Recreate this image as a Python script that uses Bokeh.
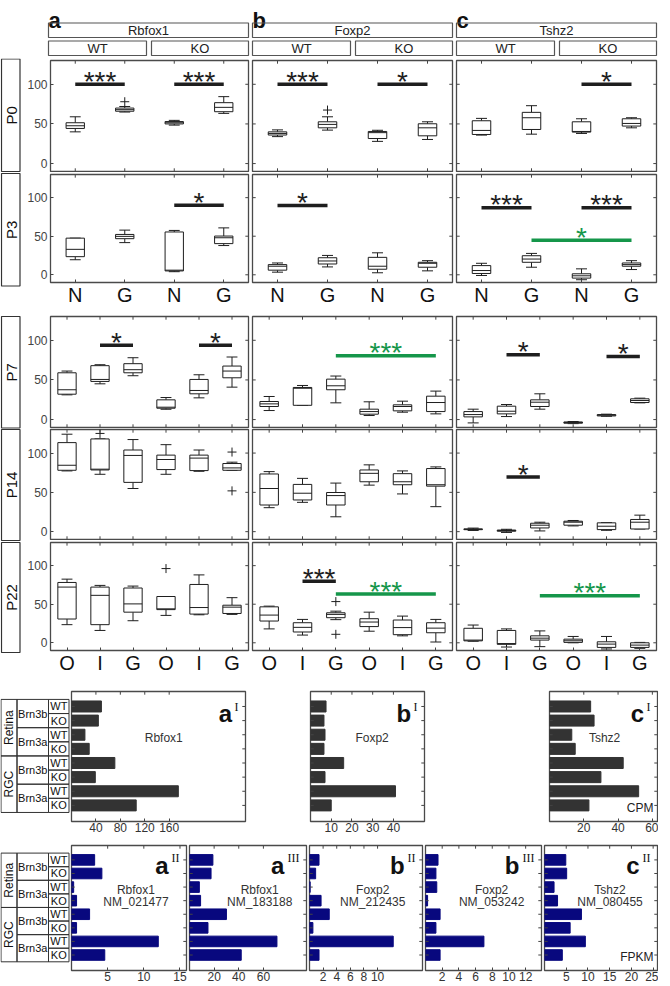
import numpy as np
from bokeh.plotting import figure
from bokeh.models import Range1d, LinearAxis, FixedTicker, Spacer
from bokeh.layouts import row, column
from bokeh.embed import file_html
from bokeh.resources import INLINE
from bokeh.core.properties import value

FONT = "Liberation Sans"
SERIF = "Liberation Serif"
GREEN = "#15964a"
BLACK = "#1e1e1e"
FRAME = "#4a4a4a"
TICK = "#444444"

# ---------------- categories / labels ----------------
genes = ["Rbfox1", "Foxp2", "Tshz2"]
panel_letters = ["a", "b", "c"]
genotypes = ["WT", "KO"]
ages = ["P0", "P3", "P7", "P14", "P22"]
early_groups = ["N", "G", "N", "G"]
late_groups = ["O", "I", "G", "O", "I", "G"]
y_ticks = [0, 50, 100]

# ---------------- box statistics: [low whisker, q1, median, q3, high whisker] ----------------
rbfox1_P0 = [[40, 44.3, 47.7, 51.5, 59], [65, 66, 68, 70, 72], [48.5, 50, 51.5, 53, 54.5], [63.3, 65.4, 70.9, 76.8, 84.4]]
rbfox1_P3 = [[19.5, 23.5, 33, 47.5, 47.5], [41.7, 46.8, 49.8, 52.3, 57.9], [4, 5, 6, 55.5, 57.5], [37.9, 40.4, 48, 50.2, 60.8]]
rbfox1_P7 = [[31.2, 32, 37.6, 59, 61.2], [45.1, 48.1, 50.6, 68, 69.2], [55.3, 59, 62.9, 70.5, 78],
             [13, 14.3, 15.6, 24.9, 27.8], [27.4, 32.5, 36.7, 50.6, 56.5], [40.9, 52.7, 61.2, 67.5, 78.9]]
rbfox1_P14 = [[77.3, 78.1, 84.5, 113.3, 124], [73, 78.5, 79.5, 118, 118], [54.9, 62.7, 97, 103.9, 117.2],
              [73, 79, 91.8, 97.4, 110.7], [76.8, 77.7, 93.6, 97.4, 103.9], [78, 78.1, 81.1, 86.7, 88.4]]
rbfox1_P22 = [[23.5, 30.8, 72.2, 78.2, 82.5], [16, 23.5, 61.5, 72.2, 74.4], [28.6, 39.7, 50.4, 71, 73.5],
              [35.5, 43, 44, 60, 60], [36.3, 37.2, 45.7, 75.6, 88], [36.8, 38, 46.2, 48.7, 58.5]]

foxp2_P0 = [[34, 36, 38, 40, 42.5], [42.2, 45.1, 49.4, 52.7, 59], [28, 31.6, 39, 40.5, 42], [30.4, 35, 45.1, 50.2, 52.7]]
foxp2_P3 = [[3.4, 6, 11.1, 13.2, 15.3], [10.2, 14, 17.9, 22.1, 25.1], [2.6, 7.2, 11.1, 22.6, 28.5], [5.1, 9.8, 14.9, 16.2, 18.3]]
foxp2_P7 = [[11.4, 16.5, 19.8, 22.8, 29.1], [18, 18, 39.5, 40.5, 43], [21.1, 37.6, 42.6, 51, 54.9],
            [5.1, 6.8, 10.1, 13.1, 22.4], [9.3, 11, 16.5, 18.6, 23.2], [7.2, 10.1, 21.5, 29.5, 35.9]]
foxp2_P14 = [[30.5, 33.9, 54.9, 73.4, 76.4], [37.3, 40.3, 48.9, 60.1, 67.8], [18.9, 33.9, 45.9, 49.8, 61.8],
             [59.2, 63.5, 74.2, 78.5, 85], [48, 59.7, 63.5, 73.8, 77.3], [31.8, 57.9, 59.7, 80.3, 82.4]]
foxp2_P22 = [[18, 28.2, 35.9, 46.6, 47.5], [10, 14, 20, 26, 30.3], [30, 32.5, 36.8, 38.9, 41],
             [15, 21, 26.9, 31.2, 39.7], [9, 10.5, 19.7, 29.5, 34.6], [1, 13, 19, 26, 30.3]]

tshz2_P0 = [[35.9, 36.7, 41.8, 54, 57], [37.1, 43, 57.8, 64.6, 73], [38, 39.7, 40.5, 52.7, 56.5], [45.1, 47.3, 50.6, 56.5, 57.8]]
tshz2_P3 = [[-0.9, 1.7, 5.5, 11.9, 14.9], [9.8, 16.2, 20.4, 24.7, 27.7], [-6.4, -4.3, -1.3, 1.3, 7.7], [6.8, 11.1, 13.2, 15.3, 18.3]]
tshz2_P7 = [[-4.2, 3.4, 6.3, 10.1, 13.1], [3.8, 7.2, 10.5, 16.9, 19], [13.1, 16.5, 21.9, 24.9, 32.5],
            [-5.1, -4.6, -3.8, -3, -2.5], [4.2, 4.6, 5.5, 6.3, 6.8], [21.1, 21.5, 24, 26.2, 27]]
tshz2_P14 = [[1.5, 2.5, 3, 3.5, 4.5], [-1, 0.5, 1.5, 2, 3], [0.9, 4.7, 8.2, 10.7, 12],
             [7.3, 8.2, 12, 13.3, 14.2], [1.7, 2.6, 6.9, 11.2, 11.6], [3.4, 3.4, 12, 15.5, 21]]
tshz2_P22 = [[2, 2.5, 3.5, 18.8, 23], [-5.5, -2, -1, 16, 18], [-5, 3.5, 6, 9, 15.4],
             [0, 0.5, 2.6, 4.7, 8.2], [-8, -6, -1.7, 1.3, 8.2], [-7.2, -6, -3, 0, 0.5]]

# outliers: (group, value)
rbfox1_P0_out = [(2, 78)]
rbfox1_P14_out = [(2, 125), (6, 101.3), (6, 51.9)]
rbfox1_P22_out = [(4, 96.2)]
foxp2_P0_out = [(2, 67.5)]
foxp2_P22_out = [(3, 53.4), (3, 11)]

# significance bars: (from group, to group, level, stars, colour)
rbfox1_P0_sig = [(1, 2, 100, "***", BLACK), (3, 4, 100, "***", BLACK)]
rbfox1_P3_sig = [(3, 4, 90, "*", BLACK)]
rbfox1_P7_sig = [(2, 3, 93.7, "*", BLACK), (5, 6, 93.7, "*", BLACK)]
foxp2_P0_sig = [(1, 2, 100, "***", BLACK), (3, 4, 100, "*", BLACK)]
foxp2_P3_sig = [(1, 2, 89.8, "*", BLACK)]
foxp2_P7_sig = [(3, 6, 80.6, "***", GREEN)]
foxp2_P22_sig = [(2, 3, 79.9, "***", BLACK), (3, 6, 63.2, "***", GREEN)]
tshz2_P0_sig = [(3, 4, 100, "*", BLACK)]
tshz2_P3_sig = [(1, 2, 87, "***", BLACK), (3, 4, 87, "***", BLACK), (2, 4, 44.7, "*", GREEN)]
tshz2_P7_sig = [(2, 3, 81.9, "*", BLACK), (5, 6, 79.7, "*", BLACK)]
tshz2_P14_sig = [(2, 3, 69.5, "*", BLACK)]
tshz2_P22_sig = [(3, 6, 61.1, "***", GREEN)]

# ---------------- bar data ----------------
bar_tissues = ["Retina", "RGC"]
bar_lines = ["Brn3b", "Brn3a", "Brn3b", "Brn3a"]
bar_genotypes = ["WT", "KO", "WT", "KO", "WT", "KO", "WT", "KO"]

cpm_rbfox1 = [49, 44, 22, 29, 71, 39, 175, 106]
cpm_foxp2 = [7.5, 6.5, 7, 6.5, 16, 7, 41, 10]
cpm_tshz2 = [24, 26, 13, 15, 43, 30, 52, 23]
fpkm_rbfox1_nm021477 = [3.2, 4.2, 0.3, 0.7, 2.5, 0.7, 12, 4.6]
fpkm_rbfox1_nm183188 = [19, 17.5, 8, 9, 30, 15, 71, 42]
fpkm_foxp2_nm212435 = [1.4, 0.9, 0.1, 1.7, 2.9, 0.5, 12.3, 1.4]
fpkm_foxp2_nm053242 = [1.5, 1.25, 1.35, 0.25, 1.75, 1.25, 7.0, 1.75]
fpkm_tshz2_nm080455 = [4.9, 5.1, 2.2, 3.0, 8.5, 5.9, 9.4, 4.1]

cpm_ticks = [[40, 80, 120, 160], [10, 20, 30, 40], [20, 40, 60]]
cpm_xmax = [285, 55, 63]
fpkm_ticks = [[5, 10, 15], [20, 40, 60], [2, 4, 6, 8, 10], [2, 4, 6, 8, 10, 12], [5, 10, 15, 20, 25]]
fpkm_xmax = [15.9, 95, 16.6, 13.9, 26]


# ---------------- helpers ----------------
def new_fig(width, height, xr, yr, bl=0, br=0, bt=0, bb=0):
    p = figure(width=width, height=height, x_range=xr, y_range=yr, title=None,
               toolbar_location=None, output_backend="svg",
               x_axis_location=None, y_axis_location=None,
               min_border_left=bl, min_border_right=br, min_border_top=bt, min_border_bottom=bb)
    p.xgrid.grid_line_color = None
    p.ygrid.grid_line_color = None
    p.background_fill_color = "white"
    p.border_fill_color = "white"
    p.outline_line_color = FRAME
    p.outline_line_width = 1.3
    return p


def add_axis(p, loc, ticks, size="12px", color="#333333", standoff=2, overrides=None):
    ax = LinearAxis(ticker=FixedTicker(ticks=ticks))
    ax.axis_line_color = None
    ax.major_tick_in = 3
    ax.major_tick_out = 0
    ax.major_tick_line_color = TICK
    ax.minor_tick_line_color = None
    ax.major_label_text_font = FONT
    ax.major_label_text_font_size = size
    ax.major_label_text_color = color
    ax.major_label_standoff = standoff
    if overrides:
        ax.major_label_overrides = overrides
    p.add_layout(ax, loc)


def inner_ticks(p, side, ticks, xr, yr, fw, fh, length=3.2):
    """Short inward tick marks on a frame side that carries no labels."""
    t = np.asarray(ticks, dtype=float)
    ux = (xr.end - xr.start) / fw
    uy = (yr.end - yr.start) / fh
    if side == "above":
        y0 = yr.end
        p.segment(x0=t, y0=y0, x1=t, y1=y0 - length * uy, line_color=TICK, line_width=1)
    elif side == "below":
        y0 = yr.start
        p.segment(x0=t, y0=y0, x1=t, y1=y0 + length * uy, line_color=TICK, line_width=1)
    elif side == "left":
        x0 = xr.start
        p.segment(x0=x0, y0=t, x1=x0 + length * ux, y1=t, line_color=TICK, line_width=1)
    else:
        x0 = xr.end
        p.segment(x0=x0, y0=t, x1=x0 - length * ux, y1=t, line_color=TICK, line_width=1)


def box_panel(stats, groups, width, bl, br, bt, fh, bb, show_y, show_x, outs=(), sigs=()):
    n = len(stats)
    xr, yr = Range1d(0.5, n + 0.5), Range1d(-10, 130)
    p = new_fig(width, bt + fh + bb, xr, yr, bl, br, bt, bb)
    fw = width - bl - br
    pxx = fw / n
    pxy = fh / 140.0
    xs = np.arange(1, n + 1)
    lo, q1, med, q3, hi = (np.array([s[k] for s in stats], dtype=float) for k in range(5))
    bw = 18.5 / pxx
    cw = 11.0 / pxx
    p.segment(x0=xs, y0=q3, x1=xs, y1=hi, line_color=BLACK, line_width=1)
    p.segment(x0=xs, y0=lo, x1=xs, y1=q1, line_color=BLACK, line_width=1)
    p.segment(x0=xs - cw / 2, y0=hi, x1=xs + cw / 2, y1=hi, line_color=BLACK, line_width=1)
    p.segment(x0=xs - cw / 2, y0=lo, x1=xs + cw / 2, y1=lo, line_color=BLACK, line_width=1)
    p.vbar(x=xs, width=bw, bottom=q1, top=q3, fill_color="white", line_color=BLACK, line_width=1)
    p.segment(x0=xs - bw / 2, y0=med, x1=xs + bw / 2, y1=med, line_color=BLACK, line_width=1)
    if outs:
        p.scatter(x=[o[0] for o in outs], y=[o[1] for o in outs], marker="cross", size=9,
                  line_color=BLACK, line_width=1)
    for x0, x1, y, stars, col in sigs:
        p.segment(x0=[x0], y0=[y], x1=[x1], y1=[y], line_color=col, line_width=3.5)
        p.text(x=[(x0 + x1) / 2], y=[y + 3.0 / pxy], text=[stars], text_color=col,
               text_font=value(FONT), text_font_size="28px", text_align="center",
               text_baseline="alphabetic")
    if show_x:
        add_axis(p, "below", list(xs), size="20px", color="#111111", standoff=1,
                 overrides={int(i + 1): g for i, g in enumerate(groups)})
    else:
        inner_ticks(p, "below", xs, xr, yr, fw, fh)
    inner_ticks(p, "above", xs, xr, yr, fw, fh)
    if show_y:
        add_axis(p, "left", y_ticks, size="12px", color="#444444", standoff=3)
    else:
        inner_ticks(p, "left", y_ticks, xr, yr, fw, fh)
    inner_ticks(p, "right", y_ticks, xr, yr, fw, fh)
    return p


YB, YT = 9.14, -0.06


def bar_panel(vals, color, xmax, ticks, width, bl, br, bt, fh, bb, letter, sup, gene_lines,
              gene_frac, unit=None, letter_base=22, sup_base=15):
    xr, yr = Range1d(0, xmax), Range1d(YB, YT)
    p = new_fig(width, bt + fh + bb, xr, yr, bl, br, bt, bb)
    fw = width - bl - br
    pxx = fw / xmax
    pxy = fh / (YB - YT)
    ys = np.arange(1, 9)
    p.hbar(y=ys, left=0, right=vals, height=0.78, fill_color=color, line_color=color)
    sup_w = 4.4 * len(sup)
    p.text(x=[xmax - 7 / pxx], y=[YT + sup_base / pxy], text=[sup], text_font=value(SERIF),
           text_font_size="12px", text_align="right", text_baseline="alphabetic", text_color="#111111")
    p.text(x=[xmax - (9 + sup_w) / pxx], y=[YT + letter_base / pxy], text=[letter], text_font=value(FONT),
           text_font_style="bold", text_font_size="24px", text_align="right",
           text_baseline="alphabetic", text_color="#111111")
    for i, line in enumerate(gene_lines):
        p.text(x=[gene_frac * xmax], y=[3.25 + 0.85 * i], text=[line], text_font=value(FONT),
               text_font_size="12px", text_align="center", text_baseline="middle", text_color="#333333")
    if unit:
        p.text(x=[xmax - 4 / pxx], y=[8.15], text=[unit], text_font=value(FONT), text_font_size="12px",
               text_align="right", text_baseline="middle", text_color="#222222")
    add_axis(p, "below", ticks, size="12px", color="#333333", standoff=1)
    inner_ticks(p, "above", ticks, xr, yr, fw, fh)
    inner_ticks(p, "left", ys, xr, yr, fw, fh)
    inner_ticks(p, "right", ys, xr, yr, fw, fh)
    return p


def bar_label_fig(bt, fh, bb):
    p = new_fig(70, bt + fh + bb, Range1d(0, 70), Range1d(YB, YT), 0, 0, bt, bb)
    p.outline_line_color = None
    lc = "#333333"
    ys = np.arange(1, 9)
    p.quad(left=48, right=68.5, top=ys - 0.5, bottom=ys + 0.5, fill_color=None, line_color=lc, line_width=1)
    p.text(x=[58.3] * 8, y=list(ys), text=bar_genotypes, text_font=value(FONT), text_font_size="11px",
           text_align="center", text_baseline="middle", text_color="#111111")
    yl = np.array([1.5, 3.5, 5.5, 7.5])
    p.quad(left=16.5, right=48, top=yl - 1, bottom=yl + 1, fill_color=None, line_color=lc, line_width=1)
    p.text(x=[32.3] * 4, y=list(yl), text=bar_lines, text_font=value(FONT), text_font_size="11px",
           text_align="center", text_baseline="middle", text_color="#111111")
    yt = np.array([2.5, 6.5])
    p.quad(left=0.5, right=16.5, top=yt - 2, bottom=yt + 2, fill_color=None, line_color=lc, line_width=1)
    p.text(x=[8.5] * 2, y=list(yt), text=bar_tissues, text_font=value(FONT), text_font_size="12px",
           text_align="center", text_baseline="middle", angle=np.pi / 2, text_color="#111111")
    return p


# ---------------- header ----------------
hdr = new_fig(660, 58, Range1d(0, 660), Range1d(58, 0))
hdr.outline_line_color = None
lefts = np.array([48, 252, 456])
hdr.text(x=list(lefts), y=[20] * 3, text=panel_letters, text_font=value(FONT), text_font_style="bold",
         text_font_size="22px", text_align="left", text_baseline="alphabetic", text_color="#111111")
hdr.quad(left=lefts, right=lefts + 200, top=22.5, bottom=37, fill_color=None, line_color="#555555", line_width=1.2)
hdr.text(x=list(lefts + 100), y=[30] * 3, text=genes, text_font=value(FONT), text_font_size="13px",
         text_align="center", text_baseline="middle", text_color="#222222")
hdr.quad(left=np.concatenate([lefts, lefts + 103]), right=np.concatenate([lefts + 98, lefts + 200]),
         top=40.5, bottom=55, fill_color=None, line_color="#555555", line_width=1.2)
hdr.text(x=list(lefts + 49) + list(lefts + 151.5), y=[48] * 6, text=[genotypes[0]] * 3 + [genotypes[1]] * 3,
         text_font=value(FONT), text_font_size="13px", text_align="center", text_baseline="middle",
         text_color="#222222")

# ---------------- row labels ----------------
rl = new_fig(24, 618, Range1d(0, 24), Range1d(676, 58))
rl.outline_line_color = None
tops = np.array([58.5, 173, 316, 429, 542])
bots = np.array([171, 285.5, 427.5, 540, 652])
rl.quad(left=1, right=19.5, top=tops, bottom=bots, fill_color=None, line_color="#333333", line_width=1.2)
rl.text(x=[10.5] * 5, y=list((tops + bots) / 2), text=ages, angle=np.pi / 2, text_font=value(FONT),
        text_font_size="15px", text_align="center", text_baseline="middle", text_color="#111111")

# ---------------- box-plot columns ----------------
col_specs = [(226, 24, 2), (204, 2, 2), (204, 2, 2)]
data_sets = [
    [(rbfox1_P0, rbfox1_P0_out, rbfox1_P0_sig), (rbfox1_P3, [], rbfox1_P3_sig), (rbfox1_P7, [], rbfox1_P7_sig),
     (rbfox1_P14, rbfox1_P14_out, []), (rbfox1_P22, rbfox1_P22_out, [])],
    [(foxp2_P0, foxp2_P0_out, foxp2_P0_sig), (foxp2_P3, [], foxp2_P3_sig), (foxp2_P7, [], foxp2_P7_sig),
     (foxp2_P14, [], []), (foxp2_P22, foxp2_P22_out, foxp2_P22_sig)],
    [(tshz2_P0, [], tshz2_P0_sig), (tshz2_P3, [], tshz2_P3_sig), (tshz2_P7, [], tshz2_P7_sig),
     (tshz2_P14, [], tshz2_P14_sig), (tshz2_P22, [], tshz2_P22_sig)],
]
row_specs = [(2, 111, 1, False), (2, 110, 24, True), (2, 111, 1, False), (1, 110, 1, False), (2, 110, 24, True)]

cols = []
for ci, (w, bl, br) in enumerate(col_specs):
    figs = []
    for ri, (bt, fh, bb, showx) in enumerate(row_specs):
        stats, outs, sigs = data_sets[ci][ri]
        groups = early_groups if ri < 2 else late_groups
        figs.append(box_panel(stats, groups, w, bl, br, bt, fh, bb, ci == 0, showx, outs, sigs))
        if ri == 1:
            figs.append(Spacer(width=w, height=6))
    cols.append(column(*figs))

top_block = row(rl, *cols)

# ---------------- CPM bars ----------------
B1 = (15, 130, 15)
aI = bar_panel(cpm_rbfox1, "#333333", cpm_xmax[0], cpm_ticks[0], 180, 1, 5, *B1, "a", "I", [genes[0]], 0.53)
bI = bar_panel(cpm_foxp2, "#333333", cpm_xmax[1], cpm_ticks[1], 118, 1, 3, *B1, "b", "I", [genes[1]], 0.54)
cI = bar_panel(cpm_tshz2, "#333333", cpm_xmax[2], cpm_ticks[2], 110, 1, 1, *B1, "c", "I", [genes[2]], 0.51,
               unit="CPM")
bars1 = row(bar_label_fig(*B1), aI, Spacer(width=59, height=10), bI, Spacer(width=121, height=10), cI)

# ---------------- FPKM bars ----------------
B2 = (9, 125, 14)
NAVY = "#08087e"
aII = bar_panel(fpkm_rbfox1_nm021477, NAVY, fpkm_xmax[0], fpkm_ticks[0], 118, 1, 2, *B2, "a", "II",
                ["Rbfox1", "NM_021477"], 0.56, letter_base=20, sup_base=12)
aIII = bar_panel(fpkm_rbfox1_nm183188, NAVY, fpkm_xmax[1], fpkm_ticks[1], 120, 1, 2, *B2, "a", "III",
                 ["Rbfox1", "NM_183188"], 0.6, letter_base=20, sup_base=12)
bII = bar_panel(fpkm_foxp2_nm212435, NAVY, fpkm_xmax[2], fpkm_ticks[2], 116, 1, 2, *B2, "b", "II",
                ["Foxp2", "NM_212435"], 0.56, letter_base=20, sup_base=12)
bIII = bar_panel(fpkm_foxp2_nm053242, NAVY, fpkm_xmax[3], fpkm_ticks[3], 119, 1, 2, *B2, "b", "III",
                 ["Foxp2", "NM_053242"], 0.57, letter_base=20, sup_base=12)
cII = bar_panel(fpkm_tshz2_nm080455, NAVY, fpkm_xmax[4], fpkm_ticks[4], 115, 1, 1, *B2, "c", "II",
                ["Tshz2", "NM_080455"], 0.58, unit="FPKM", letter_base=20, sup_base=12)
bars2 = row(bar_label_fig(*B2), aII, aIII, bII, bIII, cII)

page = column(hdr, top_block, bars1, bars2)

open("out.html", "w").write(file_html(page, INLINE))
